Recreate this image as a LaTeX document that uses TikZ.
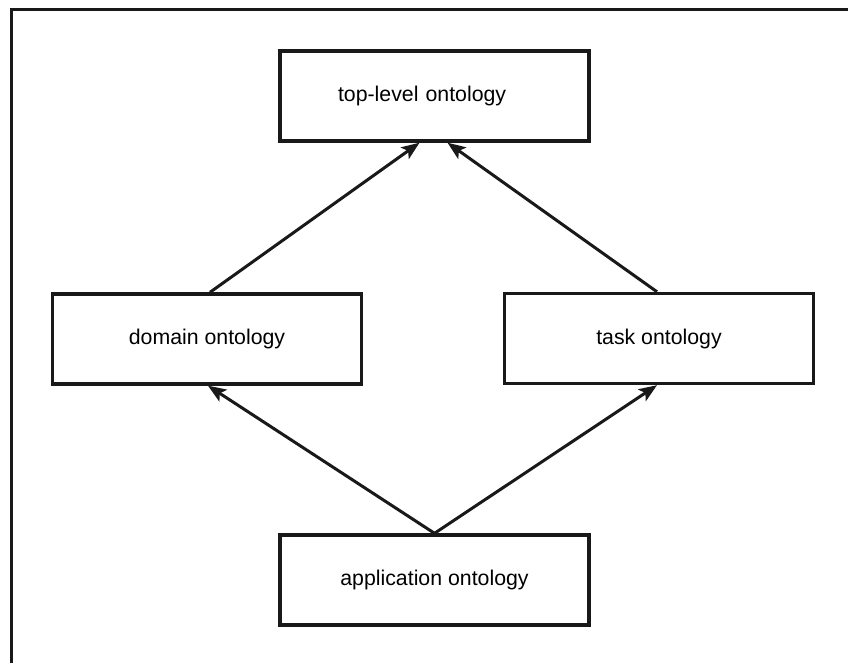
\documentclass[tikz,border=0pt]{standalone}
\usepackage{fontspec}
\setmainfont{Liberation Sans}
\usetikzlibrary{arrows.meta}
\begin{document}
\begin{tikzpicture}[x=1pt,y=-1pt,
  layer/.style={draw=black!90, line width=3.4pt, rectangle,
    minimum width=309pt, minimum height=90pt, inner sep=0pt,
    font=\fontsize{21.3}{24}\selectfont},
  link/.style={line width=3pt, draw=black!90,
    -{Stealth[length=18pt,width=14pt,inset=4pt]}}]
  \useasboundingbox (0,0) rectangle (848,663);
  \fill[white] (0,0) rectangle (848,663);
  % outer frame (only top and left sides fall inside the page)
  \draw[line width=3.4pt, black!90] (11.5,670) -- (11.5,9.5) -- (860,9.5);

  \node[layer, align=left, text width=193pt, inner xsep=58pt] (top) at (434.5,96) {top-level ontology};
  \node[layer] (dom) at (207,339) {domain ontology};
  \node[layer] (task) at (659,338.5) {task ontology};
  \node[layer] (app) at (434.5,580) {application ontology};

  \draw[link] (app.north) -- ([xshift=1pt]dom.south);
  \draw[link] (app.north) -- ([xshift=-2pt]task.south);
  \draw[link] ([xshift=3pt]dom.north) -- ([xshift=-15pt]top.south);
  \draw[link] ([xshift=-2pt]task.north) -- ([xshift=13pt]top.south);
\end{tikzpicture}
\end{document}
